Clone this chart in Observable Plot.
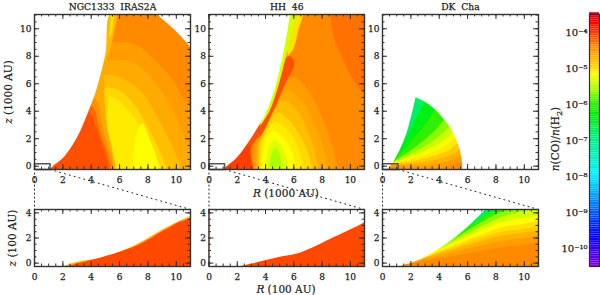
<!DOCTYPE html>
<html><head><meta charset="utf-8">
<script src="https://cdn.jsdelivr.net/npm/d3@7"></script>
<script src="https://cdn.jsdelivr.net/npm/@observablehq/plot@0.6"></script>
<style>
html,body{margin:0;padding:0;background:#fff;overflow:hidden}
#c{position:relative;width:600px;height:295px;font-family:"DejaVu Serif",serif;color:#222}
#c svg{position:absolute;left:0;top:0}
#c svg text{stroke:#222;stroke-width:.25px}
.lab{position:absolute;white-space:pre;font-size:10.5px;line-height:10px;transform:translate(-50%,-50%);-webkit-text-stroke:.2px #222}
.rot{transform:translate(-50%,-50%) rotate(-90deg)}
</style></head><body><div id="c"></div>
<script>
// colour scale: log10 abundance -> rainbow stops of the colour bar
const levelStops=[-10.5,-9.7,-9,-8,-7,-6.3,-6,-5.6,-5.2,-5,-4.45,-4,-3.75,-3.5];
const colorStops=["#8000e0","#0000ff","#0060ff","#00f0ff","#00f088","#00f000","#30f000","#a8ff00","#ffff00","#ffd800","#ff9000","#ff3400","#ff0000","#d80018"];
const barTicks=[1e-10,1e-9,1e-8,1e-7,1e-6,1e-5,1e-4];
const barLabels=["10⁻¹⁰","10⁻⁹","10⁻⁸","10⁻⁷","10⁻⁶","10⁻⁵","10⁻⁴"];
const bigMajor=[0,2,4,6,8,10];
const bigMinor=[0,.5,1,1.5,2,2.5,3,3.5,4,4.5,5,5.5,6,6.5,7,7.5,8,8.5,9,9.5,10,10.5,11];
const smallYMajor=[0,2,4];
const smallYMinor=[0,.5,1,1.5,2,2.5,3,3.5,4];
const titles=["NGC1333  IRAS2A","HH  46","DK  Cha"];
const zoomBoxR=[0,1.1,1.1,0,0];
const zoomBoxZ=[-.24,-.24,.17,.17,-.24];
const connR=[1.1,11];
const connZ=[-.24,-3.15];
const connLeftR=[0,0];
const connLeftZ=[-.5,-3.15];

// NGC1333 IRAS2A, R,z in 1000 AU
const irasTop=[
 [-4.42,[[-1,-1],[12,-1],[12,12],[-1,12]]],
 [-4.55,[[4,9.4],[5.6,9.03],[6.6,9.0],[7.5,8.66],[8.6,7.6],[9.6,6.5],[10.4,5.1],[11.3,3.6],[11.3,-.5],[4,-.5]]],
 [-4.65,[[4,7.9],[5.47,7.7],[6.5,7.7],[7.48,7.2],[8.5,6.1],[9.36,4.8],[10.5,2.35],[11,.65],[11.1,-.5],[4,-.5]]],
 [-4.8,[[4,6.7],[5.6,6.6],[6.5,6.2],[7.48,5.5],[8.9,3.1],[9.85,1.14],[10.2,-.5],[4,-.5]]],
 [-5,[[4,5.7],[5.75,5.63],[6.8,4.78],[8,2.84],[8.9,.9],[9.25,-.5],[4,-.5]]],
 [-5.1,[[5.2,5],[5.6,5],[6.5,4.2],[7.7,2.4],[8.4,1],[8.9,-.5],[5,-.5]]],
 [-5.2,[[6.9,-.5],[7,1],[7.2,2.4],[7.6,3.1],[8.1,2],[8.6,.7],[8.7,-.5]]],
 [-4.65,[[0,7.4],[4.6,7],[4.95,4.6],[5.1,3],[5.55,.8],[5.6,-.5],[0,-.5]]],
 [-4.45,[[0,5.2],[4.2,5],[4.7,3.3],[5,2],[5.45,.6],[5.5,-.5],[0,-.5]]],
 [-4.25,[[0,4.5],[4,4.4],[4.5,3],[4.8,1.9],[5.25,.5],[5.3,-.5],[0,-.5]]],
 [-4.13,[[0,4],[3.8,3.9],[4.3,2.9],[4.65,1.87],[5.1,.4],[5.15,-.5],[0,-.5]]],
 [-4.75,[[5,7.6],[5.3,8.4],[5.5,9.2],[5.8,11.3],[5.4,11.3],[4.8,7.6]]],
 [-5.05,[[5.25,9.4],[5.45,9.6],[5.65,11.3],[5.4,11.3]]]
];
const irasTopCover=[[1.1,-.5],[1.1,-.24],[1.4,.1],[2.05,.65],[3,2.1],[3.82,4.05],[4.41,5.75],[5,8.18],[5.47,11.3],[8.4,11.2],[9,10.72],[9.6,10.19],[10.2,9.59],[10.8,8.91],[11.2,8.4],[11.2,12],[-1,12],[-1,-.5]];
const irasLow=[
 [-4.7,[[-1,-1],[12,-1],[12,5],[-1,5]]],
 [-4.1,[[1,-.6],[7,1.3],[9.3,2.72],[11,3.55],[11.5,-.6]]],
 [-5,[[10,3.15],[11.2,3.9],[11.2,3.72]]]
];
const irasLowCover=[[1.93,-.3],[3,.1],[4.65,.45],[7,1.39],[9.3,2.85],[11,3.79],[11.5,4.2],[11.5,5],[-.5,5],[-.5,-.3]];

// HH 46
const hhTop=[
 [-4.42,[[-1,-1],[12,-1],[12,12],[-1,12]]],
 [-4.3,[[8.6,11.3],[8.8,9.5],[9.4,8],[10.2,6.3],[11.3,5],[11.3,11.3]]],
 [-4.55,[[3.1,-.5],[3.2,1.4],[4.6,4.1],[5,6.4],[6.2,6.36],[7.2,5.2],[8,3.5],[8.7,1.5],[9.2,-.5]]],
 [-4.65,[[3.3,-.5],[3.4,1.4],[4.6,3.5],[5.2,5.3],[5.75,5.5],[6.6,4.7],[7.4,3.1],[8,1.6],[8.47,-.5]]],
 [-4.8,[[3.45,-.5],[3.5,1.6],[4.5,3.9],[5.3,4.8],[6.2,4.1],[7,2.5],[7.5,1],[7.76,-.5]]],
 [-5,[[3.55,-.5],[3.6,1.6],[4.4,3.5],[4.9,3.9],[5.8,3.2],[6.6,1.9],[7.1,.7],[7.3,-.5]]],
 [-5.1,[[3.65,-.5],[3.7,1.4],[4.3,2.9],[4.8,3.2],[5.6,2.6],[6.2,1.6],[6.6,.4],[6.7,-.5]]],
 [-5.2,[[3.7,-.5],[3.8,1],[4.1,2.1],[4.6,2.6],[5.2,2.1],[5.9,1],[6.2,-.5]]],
 [-5.35,[[3.95,-.5],[4.1,.8],[4.3,1.6],[4.7,1.9],[5.1,1.5],[5.5,.6],[5.6,-.5]]],
 [-5.6,[[4.3,-.1],[4.4,.8],[4.7,1.3],[5,.8],[5.1,-.1]]],
 [-4.13,[[1,-.5],[3.05,-.5],[2.95,1.2],[3.3,1.9],[3.75,2.35],[4.57,4.05],[5.4,6],[6.05,7.5],[5.7,8],[4.6,7],[0,5],[0,-.5]]],
 [-4.05,[[1,-.5],[3,-.5],[2.9,1.5],[1.5,1.5]]],
 [-5.05,[[5.55,8],[5.95,8.5],[6.3,9.8],[6.6,11.3],[5.5,11.3]]],
 [-5.4,[[3.6,2.9],[3.8,3.2],[4.3,4.05],[4.95,6],[5.4,7.8],[5.8,9.5],[6.05,11.3],[5.5,11.3],[5,8]]]
];
const hhTopCover=[[1.04,-.5],[1.04,-.24],[1.98,.65],[3.16,2.35],[4.1,4.05],[4.93,6.7],[5.75,11.3],[5.75,12],[-1,12],[-1,-.5]];
const hhLow=[[-4.1,[[-1,-1],[12,-1],[12,5],[-1,5]]]];
const hhLowCover=[[2,-.3],[3.5,.1],[5,.5],[6.46,.85],[8.8,2.05],[11,3.25],[11.5,3.6],[11.5,5],[-.5,5],[-.5,-.3]];

// DK Cha
const dkTop=[
 [-4.42,[[-1,-1],[12,-1],[12,12],[-1,12]]],
 [-4.55,[[.5,0],[5.7,.5],[6.5,12],[-1,12],[-1,0]]],
 [-4.7,[[.6,.1],[5.6,.9],[6.5,12],[-1,12],[-1,.1]]],
 [-4.9,[[.65,.15],[5.5,1.3],[6.5,12],[-1,12],[-1,.15]]],
 [-5.1,[[.7,.2],[5.3,1.7],[6.5,12],[-1,12],[-1,.2]]],
 [-5.25,[[.7,.25],[5.15,2.1],[6.5,12],[-1,12],[-1,.25]]],
 [-5.45,[[.7,.3],[4.95,2.5],[6.5,12],[-1,12],[-1,.3]]],
 [-5.7,[[.7,.3],[4.7,2.95],[6.5,12],[-1,12],[-1,.3]]],
 [-6,[[.7,.3],[4.34,3.4],[6.5,12],[-1,12],[-1,.3]]],
 [-6.4,[[.7,.3],[3.7,4.1],[6.5,12],[-1,12],[-1,.3]]],
 [-6.8,[[.75,.35],[3,4.7],[6.5,12],[-1,12],[-1,.35]]]
];
const dkTopCover=[[5.65,-.5],[5.64,-.24],[5.58,.5],[5.45,1.2],[5.25,1.8],[5,2.4],[4.7,2.95],[4.34,3.4],[3.9,3.95],[3.4,4.4],[2.9,4.75],[2.33,5.02],[2.18,4.3],[2,3.57],[1.78,2.7],[1.5,1.87],[1.15,1.05],[.8,.4],[.6,.1],[.4,-.24],[.3,-.5],[-1,-.5],[-1,12],[12,12],[12,-.5]];
const dkLow=[
 [-4.42,[[-1,-1],[12,-1],[12,5],[-1,5]]],
 [-4.55,[[2,0],[8,1.2],[11.5,2.1],[11.5,5],[-1,5],[-1,0]]],
 [-4.7,[[2.2,.1],[8,1.7],[11.5,2.6],[11.5,5],[-1,5],[-1,.1]]],
 [-4.9,[[2.4,.2],[8,2.1],[11.5,3],[11.5,5],[-1,5],[-1,.2]]],
 [-5.05,[[2.6,.3],[8,2.4],[11.5,3.3],[11.5,5],[-1,5],[-1,.3]]],
 [-5.2,[[2.8,.4],[8,2.7],[11.5,3.75],[11.5,5],[-1,5],[-1,.4]]],
 [-5.4,[[3,.5],[8,3.1],[11.5,4.1],[11.5,5],[-1,5],[-1,.5]]],
 [-5.7,[[3.2,.65],[8,3.5],[10.5,4.5],[10.5,5],[-1,5],[-1,.65]]],
 [-6,[[3.4,.8],[8,3.9],[9.3,4.5],[9.3,5],[-1,5],[-1,.8]]],
 [-6.4,[[3.8,1.2],[8,4.3],[8.4,4.5],[8.4,5],[-1,5],[-1,1.2]]],
 [-6.8,[[4.6,1.9],[7.9,4.5],[7.9,5],[-1,5],[-1,1.9]]]
];
const dkLowCover=[[1.25,-.4],[1.25,-.27],[2.2,.1],[3.14,.59],[4.8,1.79],[6.2,3.12],[7.15,4.19],[7.3,4.5],[7.3,5],[-.5,5],[-.5,-.4]];

const colX=[[34,190],[208.5,364],[382,538]];
const ink="#333";
const colorOpt={type:"linear",domain:levelStops,range:colorStops};
const c=document.getElementById("c");
const fnt={background:"transparent",fontFamily:"'DejaVu Serif',serif",fontSize:"9px",color:"#222",overflow:"visible"};

function frameMarks(xDom,yDom,xMaj,xMin,yMaj,yMin,pxX,pxY){
  const tx=(t,len)=>[
    Plot.ruleX(t,{y1:yDom[0],y2:yDom[0]+len/pxY,stroke:ink}),
    Plot.ruleX(t,{y1:yDom[1],y2:yDom[1]-len/pxY,stroke:ink})];
  const ty=(t,len)=>[
    Plot.ruleY(t,{x1:xDom[0],x2:xDom[0]+len/pxX,stroke:ink}),
    Plot.ruleY(t,{x1:xDom[1],x2:xDom[1]-len/pxX,stroke:ink})];
  return [
    ...tx(xMin,2.5),...ty(yMin,2.5),...tx(xMaj,5),...ty(yMaj,5),
    Plot.axisX(xMaj,{anchor:"bottom",tickSize:0,tickPadding:7,label:null}),
    Plot.axisY(yMaj,{anchor:"left",tickSize:0,tickPadding:3,label:null}),
    Plot.frame({stroke:ink,strokeWidth:1.4})
  ];
}
const layerMarks=(ls,cover,coverCurve)=>[
  ...ls.map(([lev,pts])=>Plot.line(pts,{x:d=>d[0],y:d=>d[1],fill:()=>lev,stroke:"none",clip:true,curve:pts.length>4?"catmull-rom":"linear"})),
  Plot.line(cover,{x:d=>d[0],y:d=>d[1],fill:"white",stroke:"none",clip:true,curve:coverCurve})
];

const panels=[[irasTop,irasTopCover,irasLow,irasLowCover,"catmull-rom"],[hhTop,hhTopCover,hhLow,hhLowCover,"catmull-rom"],[dkTop,dkTopCover,dkLow,dkLowCover,"linear"]];
const topX=[0,11],topY=[-.24,11.04],lowY=[-.27,4.27];
panels.forEach(([top,topC,low,lowC,cv],i)=>{
  const [x0,x1]=colX[i];
  const base={width:600,height:295,marginLeft:x0,marginRight:600-x1,color:colorOpt,style:fnt,x:{domain:topX,axis:null}};
  c.append(Plot.plot({...base,marginTop:14,marginBottom:126,y:{domain:topY,axis:null},marks:[
    ...layerMarks(top,topC,cv),
    Plot.line(zoomBoxR.map((r,k)=>[r,zoomBoxZ[k]]),{x:d=>d[0],y:d=>d[1],stroke:"#555",strokeWidth:1.5}),
    Plot.line(connR.map((r,k)=>[r,connZ[k]]),{x:d=>d[0],y:d=>d[1],stroke:"#222",strokeWidth:1,strokeDasharray:"1,4"}),
    Plot.line(connLeftR.map((r,k)=>[r,connLeftZ[k]]),{x:d=>d[0],y:d=>d[1],stroke:"#222",strokeWidth:1,strokeDasharray:"1,3"}),
    ...frameMarks(topX,topY,bigMajor,bigMinor,bigMajor,bigMinor,14.14,13.74),
    Plot.text([titles[i]],{frameAnchor:"top",dy:-7,fontSize:9.2,lineAnchor:"middle"})
  ]}));
  c.append(Plot.plot({...base,marginTop:209,marginBottom:29,y:{domain:lowY,axis:null},marks:[
    ...layerMarks(low,lowC,"catmull-rom"),
    ...frameMarks(topX,lowY,bigMajor,bigMinor,smallYMajor,smallYMinor,14.14,12.5)
  ]}));
});

// colour bar
const ramp=d3.ticks(-10.5,-3.5,140);
c.append(Plot.plot({width:600,height:295,marginLeft:589,marginRight:1,marginTop:14,marginBottom:29,color:colorOpt,style:fnt,
  x:{domain:[0,1],axis:null},y:{type:"log",domain:[10**-10.5,10**-3.5],axis:null},marks:[
  Plot.rect(ramp,{x1:0,x2:1,y1:d=>10**d,y2:d=>10**(d+.05),fill:d=>d}),
  Plot.axisY(barTicks,{anchor:"left",tickSize:0,tickPadding:2,label:null,tickFormat:(d)=>barLabels[barTicks.indexOf(d)],fontSize:10}),
  Plot.frame({stroke:"#402040",strokeWidth:1.2})
]}));

function lab(html,x,y,rot){const d=document.createElement("div");d.className="lab"+(rot?" rot":"");d.innerHTML=html;d.style.left=x+"px";d.style.top=y+"px";c.append(d);}
lab("<i>z</i> (1000 AU)",8,92,true);
lab("<i>z</i> (100 AU)",12,238,true);
lab("<i>R</i> (1000 AU)",286,193);
lab("<i>R</i> (100 AU)",286,289);
lab("<i>n</i>(CO)/<i>n</i>(H<sub style='font-size:8px;line-height:0'>2</sub>)",555,139,true);
</script></body></html>
